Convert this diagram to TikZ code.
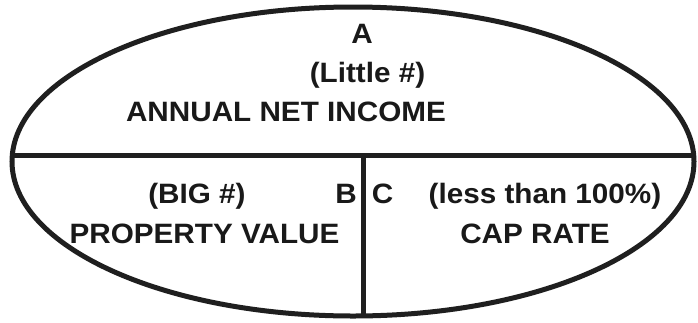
\documentclass[tikz,border=0pt]{standalone}
\usepackage{graphicx}
\usepackage{fontspec}
\setmainfont{Liberation Sans}
\newcommand{\wtxt}[1]{\scalebox{1.06}[1]{#1}}
\begin{document}
\begin{tikzpicture}[x=1pt,y=-1pt,
  lbl/.style={font=\fontsize{28}{30}\selectfont\bfseries, text=black!90, inner sep=0pt, anchor=base},
  rule/.style={line width=5pt, draw=black!88}]
\useasboundingbox (0,0) rectangle (698,322);
\fill[white] (0,0) rectangle (698,322);
\node[draw=none, fill=none] (oval) at (353,161.5) {};
\draw[rule] (oval) ellipse [x radius=341, y radius=154.5];
\coordinate (hl) at (0,155.5);
\coordinate (hr) at (698,155.5);
\coordinate (vt) at (363.5,155.5);
\coordinate (vb) at (363.5,316);
\begin{scope}
\clip (oval) ellipse [x radius=341, y radius=154.5];
\draw[rule] (hl) -- (hr);
\draw[rule] (vt) -- (vb);
\end{scope}
\node[lbl] (a) at (362,43) {\wtxt{A}};
\node[lbl] (little) at (367.5,82) {\wtxt{(Little \#)}};
\node[lbl] (ani) at (286,121) {\wtxt{ANNUAL NET INCOME}};
\node[lbl] (big) at (197,203) {\wtxt{(BIG \#)}};
\node[lbl] (b) at (346,203) {\wtxt{B}};
\node[lbl] (c) at (382.5,203) {\wtxt{C}};
\node[lbl] (less) at (545,203) {\wtxt{(less than 100\%)}};
\node[lbl] (pv) at (204.5,243) {\wtxt{PROPERTY VALUE}};
\node[lbl] (cap) at (535,243) {\wtxt{CAP RATE}};
\end{tikzpicture}
\end{document}
